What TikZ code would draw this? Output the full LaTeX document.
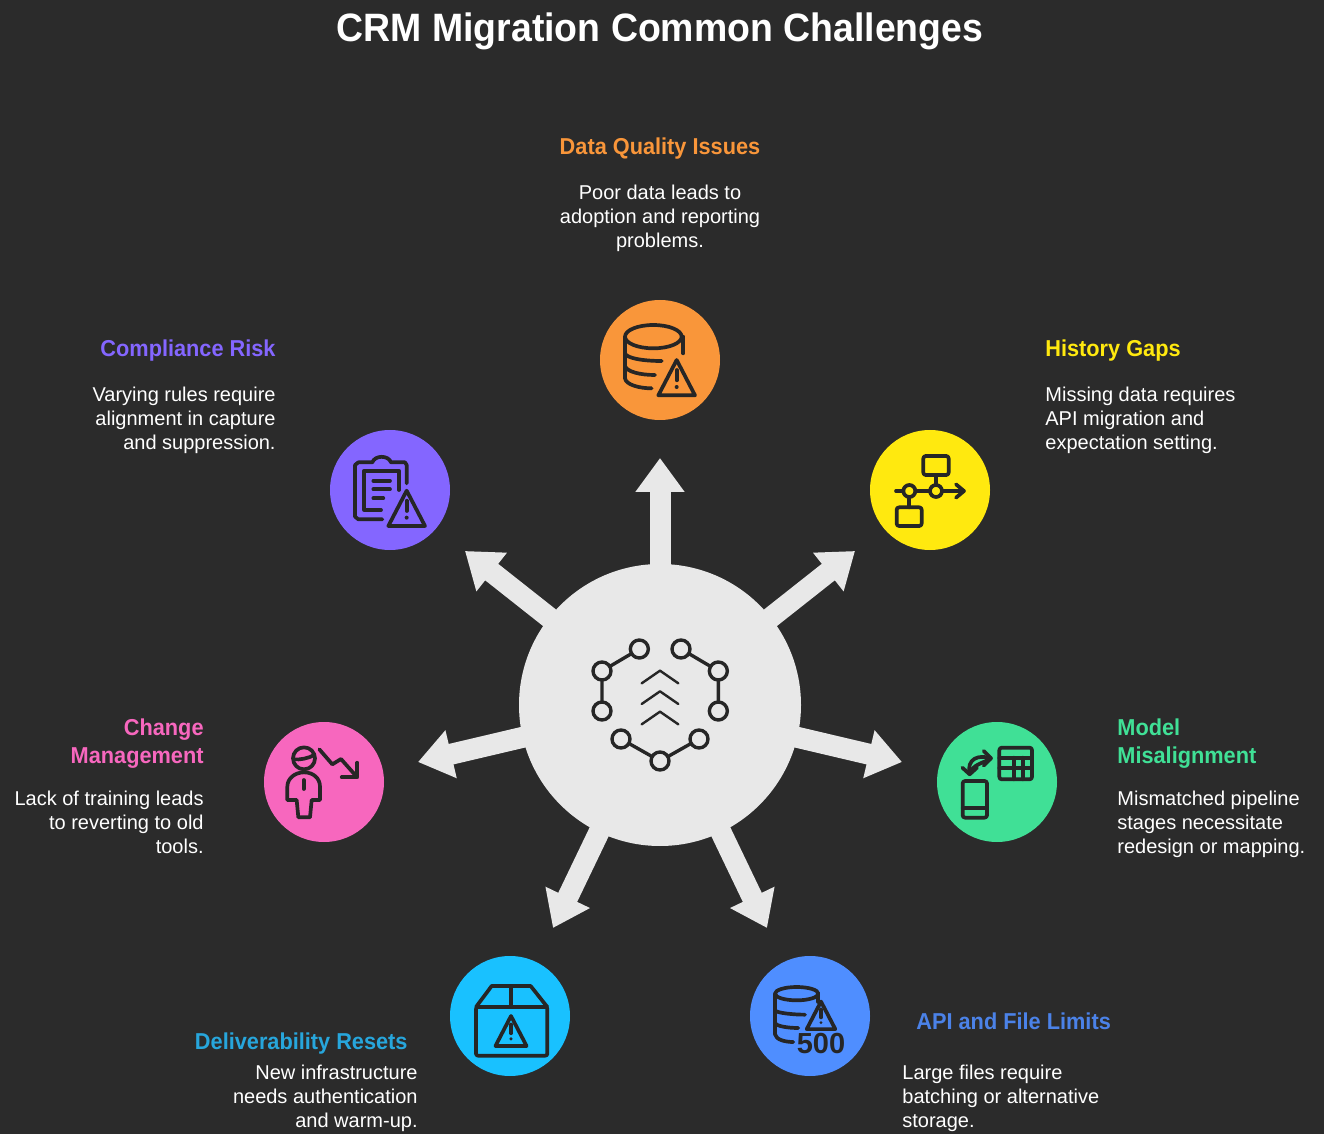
\documentclass[tikz,border=0pt]{standalone}
\usepackage{fontspec}
\setmainfont{Liberation Sans}
\newfontfamily\headfont[FakeStretch=0.945]{Liberation Sans}
\usetikzlibrary{arrows.meta, positioning}
\definecolor{bgdark}{HTML}{2B2B2B}
\definecolor{hubgray}{HTML}{E8E8E8}
\definecolor{inkdark}{HTML}{262626}
\definecolor{qualityc}{HTML}{F9963A}
\definecolor{historyc}{HTML}{FFE90F}
\definecolor{modelc}{HTML}{40E096}
\definecolor{limitc}{HTML}{4F8EFF}
\definecolor{limithd}{HTML}{4B82E8}
\definecolor{resetc}{HTML}{19C1FF}
\definecolor{resethd}{HTML}{27A6DC}
\definecolor{changec}{HTML}{F767BE}
\definecolor{riskc}{HTML}{8466FF}
\tikzset{
  badge/.style={circle, minimum size=60pt, inner sep=0pt},
  hubarrow/.style={hubgray, line width=10.5pt, shorten <=-2pt,
    -{Triangle[length=17pt, width=23.5pt]}},
  headtitle/.style={inner sep=0pt, font=\headfont\fontsize{11.5}{14}\selectfont\bfseries},
  bodyleft/.style={inner sep=0pt, white, align=left, anchor=north west,
    font=\fontsize{10}{12}\selectfont},
  bodyright/.style={inner sep=0pt, white, align=right, anchor=north east,
    font=\fontsize{10}{12}\selectfont},
  iconpen/.style={shift={#1}, x=0.16667pt, y=-0.16667pt, draw=inkdark,
    line width=1.85pt, line cap=round, line join=round},
  warnsign/.pic={
    \draw (0,-53) -- (-55,53) -- (55,53) -- cycle;
    \draw (0,-23) -- (0,8);
    \fill[inkdark] (0,28) circle (6);
  }
}
\begin{document}
\begin{tikzpicture}[x=0.5pt, y=-0.5pt]
  \useasboundingbox (0,0) rectangle (1324,1134);
  \fill[bgdark] (0,0) rectangle (1324,1134);
  \node[white, inner sep=0pt, font=\headfont\fontsize{19.8}{22}\selectfont\bfseries] (maintitle) at (660,31)
    {CRM Migration Common Challenges};

  \node[circle, fill=hubgray, minimum size=141pt, inner sep=0pt] (hub) at (660,705) {};
  \node[badge, fill=qualityc] (quality) at (660,360) {};
  \node[badge, fill=historyc] (history) at (930,490) {};
  \node[badge, fill=modelc] (model) at (997,782) {};
  \node[badge, fill=limitc] (limit) at (810,1016) {};
  \node[badge, fill=resetc] (reset) at (510,1016) {};
  \node[badge, fill=changec] (change) at (324,782) {};
  \node[badge, fill=riskc] (risk) at (390,490) {};

  \coordinate (qualitytip) at (660,458);
  \coordinate (historytip) at (855,551);
  \coordinate (modeltip) at (902,762);
  \coordinate (limittip) at (767,928);
  \coordinate (resettip) at (553,928);
  \coordinate (changetip) at (418,762);
  \coordinate (risktip) at (465,551);
  \foreach \tipname in {quality, history, model, limit, reset, change, risk}
    \draw[hubarrow] (hub) -- (\tipname tip);

  % labels
  \node[headtitle, qualityc] (qualityhead) at (660,149) {Data Quality Issues};
  \node[bodyleft, align=center, anchor=north, below=12pt of qualityhead.south] (qualitytext)
    {Poor data leads to\\adoption and reporting\\problems.};
  \node[headtitle, historyc, anchor=west] (historyhead) at (1045,351) {History Gaps};
  \node[bodyleft, below=12pt of historyhead.south west, anchor=north west] (historytext)
    {Missing data requires\\API migration and\\expectation setting.};
  \node[headtitle, riskc, anchor=east] (riskhead) at (276,351) {Compliance Risk};
  \node[bodyright, below=12pt of riskhead.south east, anchor=north east] (risktext)
    {Varying rules require\\alignment in capture\\and suppression.};
  \node[headtitle, changec, anchor=east, align=right] (changehead) at (204,744) {Change\\Management};
  \node[bodyright, below=10.5pt of changehead.south east, anchor=north east] (changetext)
    {Lack of training leads\\to reverting to old\\tools.};
  \node[headtitle, modelc, anchor=west, align=left] (modelhead) at (1117,744) {Model\\Misalignment};
  \node[bodyleft, below=10.5pt of modelhead.south west, anchor=north west] (modeltext)
    {Mismatched pipeline\\stages necessitate\\redesign or mapping.};
  \node[headtitle, resethd, anchor=east] (resethead) at (408,1044) {Deliverability Resets};
  \node[bodyright] (resettext) at (418,1065)
    {New infrastructure\\needs authentication\\and warm-up.};
  \node[headtitle, limithd, anchor=west] (limithead) at (916,1021) {API and File Limits};
  \node[bodyleft] (limittext) at (902,1065)
    {Large files require\\batching or alternative\\storage.};

  % quality icon
  \begin{scope}[iconpen={(590,290)}]
    \draw (190,140) ellipse (85 and 35);
    \draw (105,140) -- (105,265) .. controls (108,285) and (150,295) .. (185,295);
    \draw (280,140) -- (280,190);
    \draw (105,190) .. controls (110,205) and (160,213) .. (215,213);
    \draw (105,228) .. controls (110,245) and (150,255) .. (195,255);
    \pic at (260,263) {warnsign};
  \end{scope}
  % history icon
  \begin{scope}[iconpen={(860,420)}]
    \draw[rounded corners=1.2pt] (190,108) rectangle (266,165);
    \draw[rounded corners=1.2pt] (110,262) rectangle (185,318);
    \draw (108,213) -- (130,213) (166,213) -- (210,213) (246,213) -- (310,213);
    \draw (288,193) -- (312,213) -- (288,233);
    \draw (228,165) -- (228,195) (148,231) -- (148,262);
    \draw (148,213) circle (18) (228,213) circle (18);
  \end{scope}
  % risk icon
  \begin{scope}[iconpen={(320,420)}]
    \draw (260,190) -- (260,135) -- (255,127) -- (213,127) .. controls (205,105) and (165,105) .. (157,127)
      -- (115,127) -- (105,135) -- (105,290) -- (115,298) -- (187,298);
    \draw (237,210) -- (237,152) -- (133,152) -- (133,270) -- (183,270);
    \draw (160,182) -- (210,182) (160,208) -- (210,208) (160,235) -- (190,235);
    \pic at (260,265) {warnsign};
  \end{scope}
  % change icon
  \begin{scope}[iconpen={(255,715)}]
    \draw (147,130) circle (33);
    \draw (116,133) .. controls (135,135) and (160,130) .. (178,120);
    \draw (97,255) -- (97,215) .. controls (97,190) and (120,172) .. (147,172)
      .. controls (175,172) and (195,190) .. (195,215) -- (195,255) -- (170,255)
      -- (165,307) -- (130,307) -- (125,255) -- cycle;
    \draw (146,195) -- (146,222);
    \draw (193,103) -- (232,148) -- (258,132) -- (305,185);
    \draw (307,143) -- (307,187) -- (260,187);
  \end{scope}
  % model icon
  \begin{scope}[iconpen={(927,715)}]
    \draw[rounded corners=1.2pt] (217,98) rectangle (315,193);
    \draw (217,128) -- (315,128) (217,160) -- (315,160) (260,128) -- (260,193) (287,128) -- (287,193);
    \draw[rounded corners=1.2pt] (107,198) rectangle (180,308);
    \draw (107,278) -- (180,278);
    \draw (170,108) -- (192,130) -- (170,152);
    \draw (106,158) -- (128,178) -- (150,158);
    \draw (192,130) .. controls (155,118) and (118,130) .. (128,178);
    \draw (192,130) .. controls (168,145) and (135,148) .. (128,178);
  \end{scope}
  % reset icon
  \begin{scope}[iconpen={(440,947)}]
    \draw[rounded corners=1pt] (108,180) rectangle (322,326);
    \draw (108,180) -- (155,117) -- (272,117) -- (322,180);
    \draw (213,117) -- (213,180);
    \pic[scale=0.85] at (213,252) {warnsign};
  \end{scope}
  % limit icon
  \begin{scope}[iconpen={(740,947)}]
    \draw (170,140) ellipse (65 and 20);
    \draw (105,140) -- (105,262) .. controls (108,278) and (135,285) .. (160,285);
    \draw (235,140) -- (235,165);
    \draw (105,190) .. controls (110,198) and (160,203) .. (195,203);
    \draw (105,228) .. controls (110,238) and (145,243) .. (175,243);
    \pic[scale=0.78] at (243,205) {warnsign};
    \node[inner sep=0pt, inkdark, font=\fontsize{14.5}{16}\selectfont\bfseries] (limitnum) at (243,290) {500};
  \end{scope}
  % hub icon
  \begin{scope}[iconpen={(575,625)}, line width=1.7pt]
    \draw (193,72) -- (81,138) -- (81,258) (318,72) -- (430,138) -- (430,258) (138,342) -- (255,408) -- (372,342);
    \foreach \cx/\cy in {193/72, 318/72, 81/138, 430/138, 81/258, 430/258, 138/342, 372/342, 255/408}
      \draw[fill=hubgray] (\cx,\cy) circle (27);
    \foreach \cy in {175, 237, 298}
      \draw[line width=1.2pt] (200,\cy) -- (255,\cy-38) -- (310,\cy);
  \end{scope}
\end{tikzpicture}
\end{document}
